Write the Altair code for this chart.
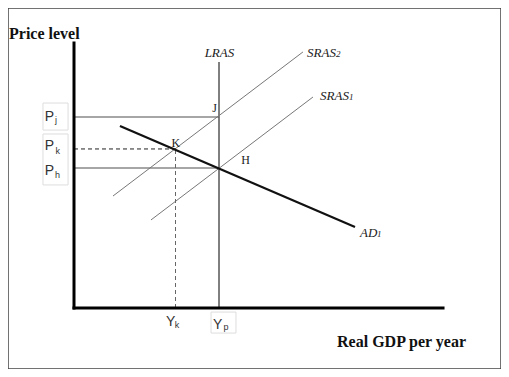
import altair as alt
import pandas as pd

# ---- line segments (data units: output on x, price level on y) ----
seg_name = ["yaxis", "xaxis", "LRAS", "Pj", "Ph", "SRAS1", "SRAS2", "AD1", "Pk", "Yk"]
seg_kind = ["axis", "axis", "lras", "guide", "guide", "sras", "sras", "ad", "dash", "dashv"]
seg_x1 = [0, 0, 10, 0, 0, 5.31, 2.69, 3.17, 0, 7]
seg_y1 = [0, 0, 0, 13.64, 10, 6.29, 8.0, 13.0, 11.36, 0]
seg_x2 = [0, 25.45, 10, 10, 10, 16.48, 15.79, 19.38, 7, 7]
seg_y2 = [18.93, 0, 17.57, 13.64, 10, 15.07, 18.29, 5.79, 11.36, 11.36]

# ---- tick label boxes ----
box_x1 = [-2.14, -2.14, 9.45]
box_x2 = [-0.41, -0.41, 11.17]
box_y1 = [14.64, 12.43, -0.29]
box_y2 = [12.71, 8.79, -1.79]

# ---- tick labels (sans) ----
tick_text = ["P", "P", "P", "Y", "Y"]
tick_x = [-1.69, -1.69, -1.69, 6.66, 9.90]
tick_y = [13.36, 11.29, 9.5, -1.29, -1.5]
sub_text = ["j", "k", "h", "k", "p"]
sub_x = [-1.24, -1.12, -1.14, 7.10, 10.48]
sub_y = [13.2, 11.0, 9.3, -1.43, -1.57]

# ---- curve labels (italic serif) ----
curve_text = ["LRAS", "SRAS", "SRAS", "AD"]
curve_x = [10.03, 16.07, 16.97, 19.72]
curve_y = [17.93, 17.93, 14.86, 5.07]
curve_align = ["center", "left", "left", "left"]
csub_text = ["2", "1", "1"]
csub_x = [18.07, 18.97, 20.9]
csub_y = [17.93, 14.86, 5.07]

# ---- point labels (serif) ----
pt_text = ["J", "K", "H"]
pt_x = [9.69, 7.03, 11.83]
pt_y = [14.0, 11.5, 10.29]

# ---- axis titles (bold serif) ----
title_text = ["Price level", "Real GDP per year"]
title_x = [-4.48, 18.14]
title_y = [19.21, -2.79]

XD = [-4.552, 29.448]
YD = [-4.357, 21.429]
xs = alt.Scale(domain=XD, nice=False, zero=False)
ys = alt.Scale(domain=YD, nice=False, zero=False)

segs = pd.DataFrame(dict(name=seg_name, kind=seg_kind, x1=seg_x1, y1=seg_y1, x2=seg_x2, y2=seg_y2))
boxes = pd.DataFrame(dict(x1=box_x1, x2=box_x2, y1=box_y1, y2=box_y2))
ticks = pd.DataFrame(dict(t=tick_text, x=tick_x, y=tick_y))
subs = pd.DataFrame(dict(t=sub_text, x=sub_x, y=sub_y))
curves = pd.DataFrame(dict(t=curve_text, x=curve_x, y=curve_y, a=curve_align))
csubs = pd.DataFrame(dict(t=csub_text, x=csub_x, y=csub_y))
pts = pd.DataFrame(dict(t=pt_text, x=pt_x, y=pt_y))
titles = pd.DataFrame(dict(t=title_text, x=title_x, y=title_y))

def seg_layer(kind, **kw):
    return alt.Chart(segs).transform_filter(alt.datum.kind == kind).mark_rule(**kw).encode(
        x=alt.X("x1:Q", scale=xs, axis=None),
        y=alt.Y("y1:Q", scale=ys, axis=None),
        x2="x2:Q", y2="y2:Q",
    )

box_layer = alt.Chart(boxes).mark_rect(fill="white", stroke="#dddddd", strokeWidth=1).encode(
    x=alt.X("x1:Q", scale=xs, axis=None), x2="x2:Q",
    y=alt.Y("y1:Q", scale=ys, axis=None), y2="y2:Q",
)

def text_layer(df, **kw):
    return alt.Chart(df).mark_text(baseline="alphabetic", **kw).encode(
        x=alt.X("x:Q", scale=xs, axis=None),
        y=alt.Y("y:Q", scale=ys, axis=None),
        text="t:N",
    )

curve_center = alt.Chart(curves).transform_filter(alt.datum.a == "center").mark_text(
    baseline="alphabetic", align="center", font="Liberation Serif", fontStyle="italic", fontSize=13, color="#222"
).encode(x=alt.X("x:Q", scale=xs, axis=None), y=alt.Y("y:Q", scale=ys, axis=None), text="t:N")
curve_left = alt.Chart(curves).transform_filter(alt.datum.a == "left").mark_text(
    baseline="alphabetic", align="left", font="Liberation Serif", fontStyle="italic", fontSize=13, color="#222"
).encode(x=alt.X("x:Q", scale=xs, axis=None), y=alt.Y("y:Q", scale=ys, axis=None), text="t:N")

chart = alt.layer(
    box_layer,
    seg_layer("guide", color="#888888", strokeWidth=1.5),
    seg_layer("lras", color="#555555", strokeWidth=1.5),
    seg_layer("sras", color="#777777", strokeWidth=1),
    seg_layer("dash", color="#222222", strokeWidth=1, strokeDash=[4, 3]),
    seg_layer("dashv", color="#666666", strokeWidth=1, strokeDash=[4, 3]),
    seg_layer("ad", color="#111111", strokeWidth=2.2),
    seg_layer("axis", color="#000000", strokeWidth=3, strokeCap="square"),
    text_layer(ticks, align="center", font="Liberation Sans", fontSize=14, color="#333"),
    text_layer(subs, align="center", font="Liberation Sans", fontSize=9, color="#333"),
    curve_center,
    curve_left,
    text_layer(csubs, align="left", font="Liberation Serif", fontStyle="italic", fontSize=9, color="#222"),
    text_layer(pts, align="center", font="Liberation Serif", fontSize=12, color="#222"),
    text_layer(titles, align="left", font="Liberation Serif", fontWeight="bold", fontSize=16, color="#111"),
).properties(
    width=493, height=361,
    autosize=alt.AutoSizeParams(type="none"),
    padding=0,
).configure_view(stroke="#444444", strokeWidth=1.5)

chart.save("out.html", embed_options={"renderer": "svg", "actions": False})
